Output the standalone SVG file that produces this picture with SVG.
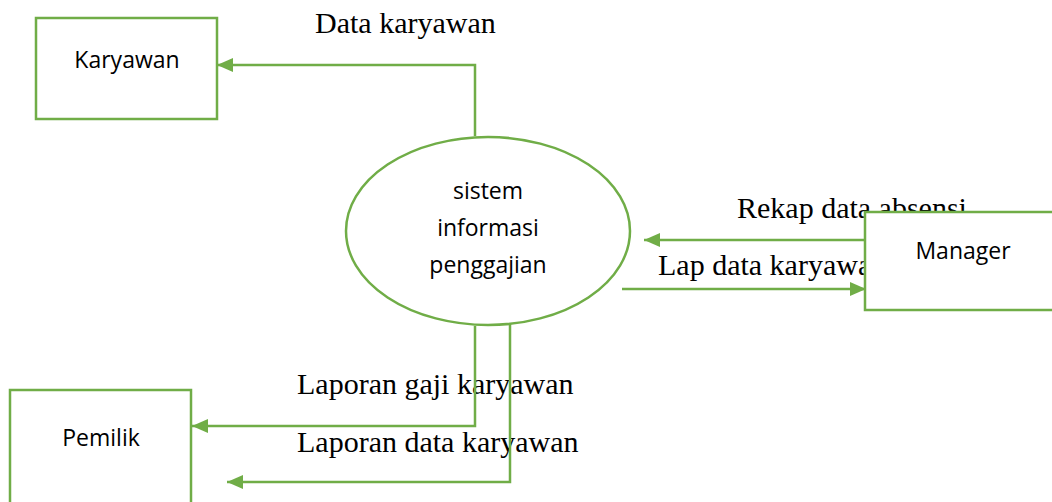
<svg xmlns="http://www.w3.org/2000/svg" width="1052" height="502" viewBox="0 0 1052 502">
<style>
.box{fill:#fff;stroke:#70AD47;stroke-width:2.5}
.ln{fill:none;stroke:#70AD47;stroke-width:2.5}
.lbl{font-family:"Liberation Serif","Times New Roman",serif;font-size:30px;fill:#000}
.nt{font-family:"Open Sans","Liberation Sans",sans-serif;font-size:23px;fill:#000;text-anchor:middle}
</style>
<defs>
<marker id="ah" markerWidth="16" markerHeight="14" refX="16" refY="7" orient="auto" markerUnits="userSpaceOnUse">
<path d="M0,0 L16,7 L0,14 Z" fill="#70AD47"/>
</marker>
</defs>
<rect width="1052" height="502" fill="#fff"/>
<g id="labels">
<text class="lbl" x="315" y="33">Data karyawan</text>
<text class="lbl" x="737" y="218">Rekap data absensi</text>
<text class="lbl" x="658" y="275">Lap data karyawan</text>
<text class="lbl" x="297" y="394">Laporan gaji karyawan</text>
<text class="lbl" x="297" y="452">Laporan data karyawan</text>
</g>
<g id="connectors">
<path class="ln" d="M475,136 V65 H217" marker-end="url(#ah)"/>
<path class="ln" d="M865,240 H644" marker-end="url(#ah)"/>
<path class="ln" d="M622,289 H866" marker-end="url(#ah)"/>
<path class="ln" d="M475,326 V426 H192" marker-end="url(#ah)"/>
<path class="ln" d="M510,323 V482 H227" marker-end="url(#ah)"/>
</g>
<g id="karyawan">
<rect class="box" x="36" y="18" width="181" height="101"/>
<text class="nt" x="127" y="68">Karyawan</text>
</g>
<g id="sistem">
<ellipse class="box" cx="488" cy="231" rx="142" ry="94"/>
<text class="nt" x="488" y="199">sistem</text>
<text class="nt" x="488" y="236">informasi</text>
<text class="nt" x="488" y="273">penggajian</text>
</g>
<g id="manager">
<rect class="box" x="865" y="212" width="200" height="98"/>
<text class="nt" x="963" y="259">Manager</text>
</g>
<g id="pemilik">
<rect class="box" x="10" y="390" width="181" height="130"/>
<text class="nt" x="101" y="446">Pemilik</text>
</g>
</svg>
